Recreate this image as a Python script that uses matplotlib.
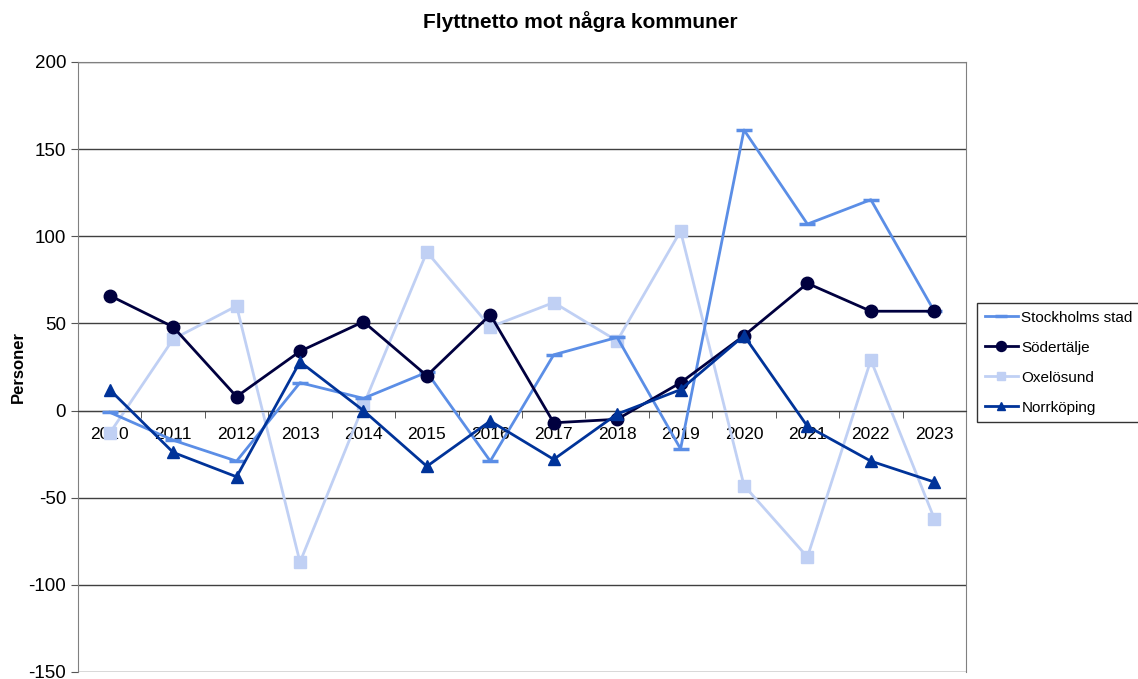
import numpy as np
import matplotlib.pyplot as plt

years = [str(y) for y in range(2010, 2024)]
stockholm = [-1, -17, -29, 16, 7, 22, -29, 32, 42, -22, 161, 107, 121, 57]
sodertalje = [66, 48, 8, 34, 51, 20, 55, -7, -5, 16, 43, 73, 57, 57]
oxelosund = [-13, 41, 60, -87, 3, 91, 48, 62, 40, 103, -43, -84, 29, -62]
norrkoping = [12, -24, -38, 28, 0, -32, -6, -28, -2, 12, 43, -9, -29, -41]

plt.rcParams['font.family'] = ['Liberation Sans', 'DejaVu Sans']
plt.rcParams['axes.unicode_minus'] = False

fig = plt.figure(figsize=(11.38, 6.79), dpi=100)
ax = fig.add_axes([78/1138, 1 - 672/679, (966 - 78)/1138, (672 - 62)/679])

x = np.arange(len(years))
ax.plot(x, stockholm, color='#5b8ee6', lw=2, marker='_', ms=11, mew=2.5, label='Stockholms stad', zorder=3)
ax.plot(x, sodertalje, color='#00003f', lw=2, marker='o', ms=9, label='Södertälje', zorder=4)
ax.plot(x, oxelosund, color='#c0d0f4', lw=2, marker='s', ms=8, label='Oxelösund', zorder=2)
ax.plot(x, norrkoping, color='#003399', lw=2, marker='^', ms=8, label='Norrköping', zorder=5)

ax.set_xlim(-0.5, len(years) - 0.5)
ax.set_ylim(-150, 200)
ax.set_yticks(np.arange(-150, 201, 50))
ax.tick_params(axis='y', labelsize=13.5, length=5, direction='out', color='#555555')
ax.grid(axis='y', color='#404040', lw=1)
ax.set_axisbelow(True)

# x-axis crosses at zero, labels under it
ax.spines['bottom'].set_position(('data', 0))
ax.spines['bottom'].set_color('#404040')
ax.set_xticks(x)
ax.set_xticklabels(years, fontsize=12.5)
ax.set_xticks(np.arange(-0.5, len(years)), minor=True)
ax.tick_params(axis='x', which='major', length=0, pad=12)
ax.tick_params(axis='x', which='minor', length=5, direction='out', color='#404040')
for s in ['left', 'right', 'top']:
    ax.spines[s].set_color('#808080')

ax.set_ylabel('Personer', fontsize=12, fontweight='bold', labelpad=2)
fig.text(580/1138, 1 - 22/679, 'Flyttnetto mot några kommuner',
         ha='center', va='center', fontsize=15, fontweight='bold')

leg = ax.legend(loc='upper left', bbox_to_anchor=(977/1138, 1 - 303/679),
                bbox_transform=fig.transFigure, fontsize=11, frameon=True,
                fancybox=False, edgecolor='black', borderaxespad=0,
                handlelength=2.2, handletextpad=0.2, labelspacing=1.05,
                borderpad=0.5, markerscale=0.8)
leg.get_frame().set_linewidth(1)

fig.savefig('out.png', dpi=100)
